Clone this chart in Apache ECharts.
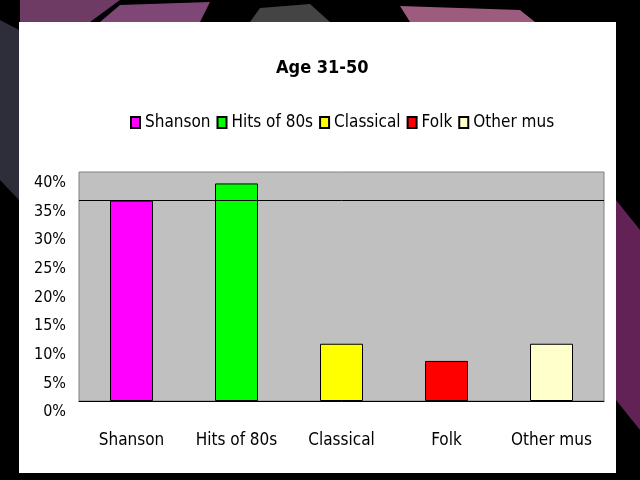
<!DOCTYPE html>
<html>
<head>
<meta charset="utf-8">
<script src="https://cdn.jsdelivr.net/npm/echarts@6/dist/echarts.min.js"></script>
<style>
html,body{margin:0;padding:0;background:#000;}
#chart{width:640px;height:480px;}
</style>
</head>
<body>
<div id="chart"></div>
<script>
const titleText = 'Age 31-50';
const categories = ['Shanson', 'Hits of 80s', 'Classical', 'Folk', 'Other mus'];
const values = [35, 38, 10, 7, 10];
const colors = ['#ff00ff', '#00ff00', '#ffff00', '#ff0000', '#ffffcc'];
const yTicks = [0, 5, 10, 15, 20, 25, 30, 35, 40];
const refLine = 35;

const FONT = '"Liberation Sans Narrow", "DejaVu Sans Condensed", "Liberation Sans", sans-serif';

const chart = echarts.init(document.getElementById('chart'));

const series = categories.map((name, i) => ({
  name: name,
  type: 'bar',
  barWidth: 43,
  barGap: '-100%',
  data: categories.map((c, j) => (j === i ? values[j] : null)),
  itemStyle: { color: colors[i], borderColor: '#000', borderWidth: 1 },
  emphasis: { disabled: true },
  markLine: i === 0 ? {
    silent: true,
    symbol: 'none',
    label: { show: false },
    lineStyle: { color: '#000', width: 1, type: 'solid' },
    data: [{ yAxis: refLine }]
  } : undefined
}));

chart.setOption({
  animation: false,
  backgroundColor: '#000',
  graphic: [
    { type: 'polygon', shape: { points: [[20,0],[120,0],[90,22],[20,22]] }, style: { fill: '#8a4a7e', opacity: 0.8 }, z: -10 },
    { type: 'polygon', shape: { points: [[120,5],[210,2],[200,22],[100,22]] }, style: { fill: '#b565a8', opacity: 0.7 }, z: -10 },
    { type: 'polygon', shape: { points: [[260,8],[310,4],[330,22],[250,22]] }, style: { fill: '#555', opacity: 0.8 }, z: -10 },
    { type: 'polygon', shape: { points: [[400,6],[520,10],[535,22],[410,22]] }, style: { fill: '#d27aa8', opacity: 0.75 }, z: -10 },
    { type: 'polygon', shape: { points: [[0,20],[19,30],[19,200],[0,180]] }, style: { fill: '#3a3a48', opacity: 0.8 }, z: -10 },
    { type: 'polygon', shape: { points: [[616,200],[640,230],[640,430],[616,400]] }, style: { fill: '#7a2a6a', opacity: 0.8 }, z: -10 },
    { type: 'rect', shape: { x: 19, y: 22, width: 597, height: 451 }, style: { fill: '#ffffff' }, z: -5 }
  ],
  title: {
    text: titleText,
    left: 271,
    top: 54,
    textStyle: { fontFamily: FONT, fontSize: 18, fontWeight: 'bold', color: '#000' }
  },
  legend: {
    data: categories,
    top: 109,
    left: 125,
    icon: 'rect',
    itemWidth: 9,
    itemHeight: 11,
    itemGap: 6,
    textStyle: { fontFamily: FONT, fontSize: 17, color: '#000' },
    selectedMode: false
  },
  grid: {
    left: 79, right: 36, top: 172, bottom: 79,
    show: true,
    backgroundColor: '#c0c0c0',
    borderColor: '#808080',
    borderWidth: 1
  },
  xAxis: {
    type: 'category',
    data: categories,
    axisLine: { lineStyle: { color: '#000', width: 1 } },
    axisTick: { show: false },
    axisLabel: { fontFamily: FONT, fontSize: 17, color: '#000', margin: 31, interval: 0 }
  },
  yAxis: {
    type: 'value',
    min: yTicks[0],
    max: yTicks[yTicks.length - 1],
    interval: yTicks[1] - yTicks[0],
    axisLine: { show: false },
    axisTick: { show: false },
    splitLine: { show: false },
    axisLabel: {
      fontFamily: FONT, fontSize: 16, color: '#000', margin: 13,
      formatter: '{value}%',
      verticalAlign: 'top',
      lineHeight: 22
    }
  },
  series: series
});
</script>
</body>
</html>
